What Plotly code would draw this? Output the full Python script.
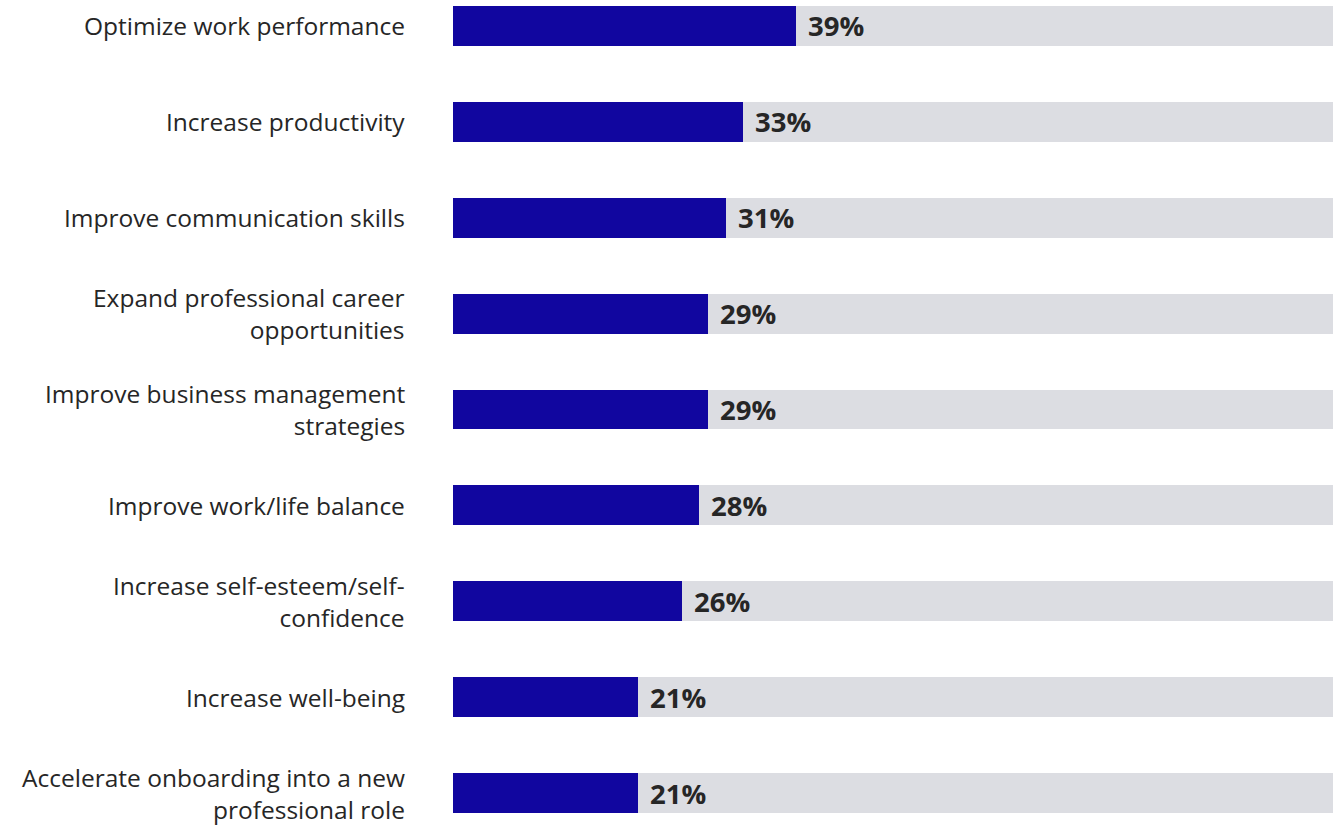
import plotly.graph_objects as go

# Survey results: share of respondents selecting each goal
categories = [
    "Optimize work performance",
    "Increase productivity",
    "Improve communication skills",
    "Expand professional career<br>opportunities",
    "Improve business management<br>strategies",
    "Improve work/life balance",
    "Increase self-esteem/self-<br>confidence",
    "Increase well-being",
    "Accelerate onboarding into a new<br>professional role",
]
values = [39, 33, 31, 29, 29, 28, 26, 21, 21]
scale_max = 100

BLUE = "#11069f"
TRACK = "#dcdde2"
TEXT = "#262626"
FONT = "'Open Sans', Lato, sans-serif"

positions = list(range(len(categories)))

fig = go.Figure()
fig.add_trace(go.Bar(
    x=[scale_max] * len(categories), y=positions, orientation="h",
    marker=dict(color=TRACK, line=dict(width=0)), width=0.417,
    hoverinfo="skip", showlegend=False,
))
fig.add_trace(go.Bar(
    x=values, y=positions, orientation="h",
    marker=dict(color=BLUE, line=dict(width=0)), width=0.417,
    showlegend=False,
))

for pos, cat, val in zip(positions, categories, values):
    fig.add_annotation(
        x=0, y=pos, xref="paper", yref="y", text=cat, showarrow=False,
        xanchor="right", yanchor="middle", align="right", xshift=-46,
        font=dict(family=FONT, size=24.5, color=TEXT),
    )
    fig.add_annotation(
        x=val, y=pos, xref="x", yref="y", text=f"<b>{val}%</b>", showarrow=False,
        xanchor="left", yanchor="middle", xshift=10,
        font=dict(family=FONT, size=27.5, color=TEXT),
    )

fig.update_layout(
    width=1335, height=826,
    margin=dict(l=453, r=2, t=0, b=0),
    barmode="overlay", bargap=0,
    plot_bgcolor="white", paper_bgcolor="white",
    xaxis=dict(range=[0, scale_max], visible=False, fixedrange=True),
    yaxis=dict(range=[8.344, -0.271], visible=False, fixedrange=True),
)

fig.write_html("out.html")
